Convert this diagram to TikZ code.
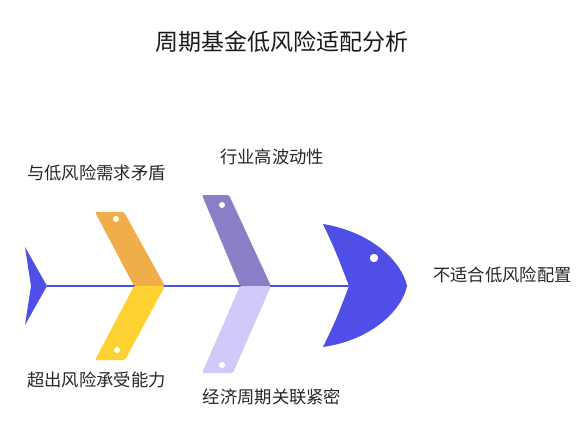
\documentclass[tikz,border=0pt]{standalone}
\usepackage{fontspec}
\setmainfont{Noto Sans CJK SC}
\begin{document}
\begin{tikzpicture}[x=1pt,y=-1pt,
  lbl/.style={font=\fontsize{17.3}{19}\selectfont, text=black!85, inner sep=0pt},
  bone/.style={rounded corners=1.5pt},
  dot/.style={fill=white, draw=none}]
\definecolor{fishblue}{HTML}{4F4FE8}
\definecolor{boneorange}{HTML}{F0AE4A}
\definecolor{boneyellow}{HTML}{FFD234}
\definecolor{bonepurple}{HTML}{8A7EC7}
\definecolor{bonelav}{HTML}{CFCAF7}
\useasboundingbox (0,0) rectangle (587,431);
% title
\node[font=\fontsize{23}{26}\selectfont, text=black!90, inner sep=0pt] (title) at (282,42) {周期基金低风险适配分析};
% coordinates
\coordinate (tailtip) at (47,286);
\coordinate (headin) at (349,286);
% spine
\draw[fishblue, line width=2.2pt] (tailtip) -- (headin);
% tail
\fill[fishblue] (25,247) -- (tailtip) -- (25,325) -- (31,286) -- cycle;
% head
\fill[fishblue] (323,224) .. controls (372,232) and (402,262) .. (407,286)
  .. controls (402,310) and (372,340) .. (323,347)
  .. controls (336,320) .. (349,286)
  .. controls (336,252) .. (323,224) -- cycle;
\fill[white] (374,258) circle (4.2);
% bones
\fill[boneorange, bone] (95,212) -- (124,212) -- (165,286) -- (134,286) -- cycle;
\fill[boneyellow, bone] (134,286) -- (165,286) -- (125,360) -- (95,360) -- cycle;
\fill[bonepurple, bone] (202,195) -- (229,195) -- (271,286) -- (240,286) -- cycle;
\fill[bonelav, bone] (240,286) -- (271,286) -- (233,373) -- (202,373) -- cycle;
\fill[dot] (116,219) circle (3);
\fill[dot] (117,350) circle (3);
\fill[dot] (222,205) circle (3);
\fill[dot] (222,365) circle (3);
% labels
\node[lbl, anchor=west] (l1) at (27,173) {与低风险需求矛盾};
\node[lbl] (l2) at (272,157) {行业高波动性};
\node[lbl, anchor=west] (l3) at (27,380) {超出风险承受能力};
\node[lbl] (l4) at (272,397) {经济周期关联紧密};
\node[lbl, anchor=west] (l5) at (433,275) {不适合低风险配置};
\end{tikzpicture}
\end{document}
